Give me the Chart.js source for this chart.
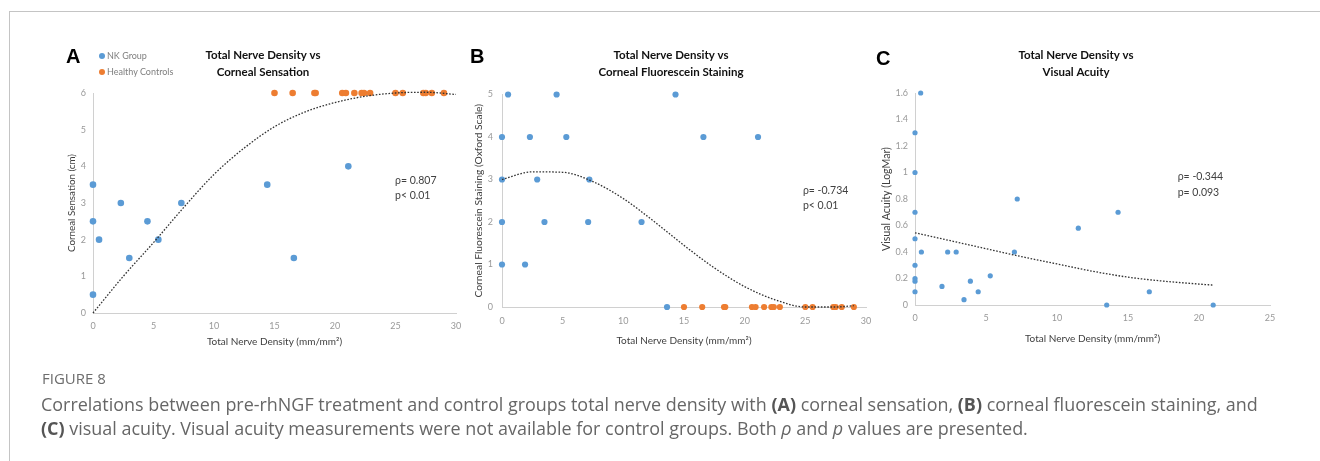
<!DOCTYPE html>
<html>
<head>
<meta charset="utf-8">
<script src="https://cdn.jsdelivr.net/npm/chart.js@4"></script>
<style>
html, body { margin: 0; padding: 0; background: #fff; }
body { width: 1320px; height: 461px; position: relative; overflow: hidden; font-family: 'Open Sans', sans-serif; }
.frame { position: absolute; left: 9px; top: 11px; right: -5px; bottom: -5px; border-top: 1px solid #c4c4c4; border-left: 1px solid #c4c4c4; }
canvas { position: absolute; top: 0; }
.letter { position: absolute; font: bold 20px 'Liberation Sans', Arial, sans-serif; color: #000; line-height: 20px; }
.legend { position: absolute; font: 9px Lato, sans-serif; color: #7f7f7f; line-height: 10px; white-space: nowrap; }
.legend i { display: inline-block; width: 6px; height: 6px; border-radius: 50%; margin-right: 2px; vertical-align: 0px; }
.figno { position: absolute; left: 42px; top: 367px; font-size: 15px; line-height: 22px; color: #6d6d6d; }
.cap { position: absolute; left: 41px; top: 392px; font-size: 17.95px; line-height: 24px; color: #666; white-space: nowrap; }
.cap b { font-weight: 700; color: #555; }
</style>
</head>
<body>
<div class="frame"></div>

<canvas id="chartA"></canvas>
<canvas id="chartB"></canvas>
<canvas id="chartC"></canvas>

<div class="letter" style="left:66px;top:46px">A</div>
<div class="letter" style="left:470px;top:46px">B</div>
<div class="letter" style="left:876px;top:48px">C</div>

<div class="legend" style="left:99px;top:51px"><i style="background:#5b9bd5"></i>NK Group</div>
<div class="legend" style="left:99px;top:67px"><i style="background:#ed7d31"></i>Healthy Controls</div>

<div class="figno">FIGURE 8</div>
<div class="cap">Correlations between pre-rhNGF treatment and control groups total nerve density with <b>(A)</b> corneal sensation, <b>(B)</b> corneal fluorescein staining, and<br><b>(C)</b> visual acuity. Visual acuity measurements were not available for control groups. Both <i>ρ</i> and <i>p</i> values are presented.</div>

<script>
// ---- data ----
const controlDensity = [15.0, 16.5, 18.3, 18.4, 20.6, 20.9, 21.6, 22.2, 22.4, 22.9, 25.0, 25.6, 27.3, 27.5, 28.0, 29.0]
const controlSensation = [6, 6, 6, 6, 6, 6, 6, 6, 6, 6, 6, 6, 6, 6, 6, 6]
const controlStaining = [0, 0, 0, 0, 0, 0, 0, 0, 0, 0, 0, 0, 0, 0, 0, 0]

// A: corneal sensation
const nkDensityA = [0, 0, 0.5, 0, 2.3, 3.0, 4.5, 5.4, 7.3, 14.4, 16.6, 21.1]
const nkSensation = [3.5, 2.5, 2.0, 0.5, 3.0, 1.5, 2.5, 2.0, 3.0, 3.5, 1.5, 4.0]
const trendXA = [0, 2.5, 5, 7.5, 10, 12.5, 15, 17.5, 20, 22.5, 25, 27.5, 30]
const trendYA = [0, 1.0, 1.92, 2.88, 3.78, 4.5, 5.08, 5.48, 5.74, 5.91, 6.0, 6.02, 5.96]

// B: corneal fluorescein staining
const nkDensityB = [0.5, 4.5, 14.3, 0, 2.3, 5.3, 16.6, 21.1, 0, 2.9, 7.2, 0, 3.5, 7.1, 11.5, 0, 1.9, 13.6]
const nkStaining = [5, 5, 5, 4, 4, 4, 4, 4, 3, 3, 3, 2, 2, 2, 2, 1, 1, 0]
const trendXB = [0, 2.5, 5, 7.5, 10, 12.5, 15, 17.5, 20, 22.5, 25, 27.5, 29]
const trendYB = [3.0, 3.18, 3.17, 2.95, 2.55, 2.02, 1.45, 0.92, 0.48, 0.17, 0.0, 0.0, 0.03]

// C: visual acuity
const nkDensityC = [0.4, 0, 0, 0, 0, 0.45, 0, 0, 0, 0, 1.9, 2.3, 2.9, 3.45, 3.9, 4.45, 5.3, 7.0, 7.2, 11.5, 13.5, 14.3, 16.5, 21.0]
const nkAcuity = [1.6, 1.3, 1.0, 0.7, 0.5, 0.4, 0.3, 0.2, 0.18, 0.1, 0.14, 0.4, 0.4, 0.04, 0.18, 0.1, 0.22, 0.4, 0.8, 0.58, 0, 0.7, 0.1, 0]
const trendXC = [0, 2.5, 5, 7.5, 10, 12.5, 15, 17.5, 20, 21]
const trendYC = [0.545, 0.485, 0.425, 0.365, 0.31, 0.255, 0.21, 0.18, 0.158, 0.15]

// axis ticks
const densityTicks30 = [0, 5, 10, 15, 20, 25, 30]
const densityTicks25 = [0, 5, 10, 15, 20, 25]
const sensationTicks = [0, 1, 2, 3, 4, 5, 6]
const stainingTicks = [0, 1, 2, 3, 4, 5]
const acuityTicks = [0, 0.2, 0.4, 0.6, 0.8, 1, 1.2, 1.4, 1.6]

const blue = '#5b9bd5'
const orange = '#ed7d31'
const axisColor = '#d0d0d0'
const tickColor = '#999'
const labelColor = '#404040'

function pts(xs, ys) {
    return xs.map((x, i) => ({x: x, y: ys[i]}))
}

// draws the rho / p text at data coordinates
const notesPlugin = {
    id: 'notes',
    afterDatasetsDraw(chart, args, opts) {
        const ctx = chart.ctx
        ctx.save()
        ctx.font = '10.5px Lato'
        ctx.fillStyle = labelColor
        ctx.textBaseline = 'middle'
        ctx.textAlign = 'left'
        opts.lines.forEach(function(l) {
            ctx.fillText(l.text, chart.scales.x.getPixelForValue(l.x), chart.scales.y.getPixelForValue(l.y))
        })
        ctx.restore()
    }
}

function scatterSet(data, color, r) {
    return {type: 'scatter', data: data, backgroundColor: color, borderWidth: 0, pointRadius: r, clip: false}
}

function trendSet(data) {
    return {type: 'line', data: data, showLine: true, borderColor: '#333', borderWidth: 1.3, borderDash: [1.6, 1.6],
        pointRadius: 0, fill: false, cubicInterpolationMode: 'monotone', clip: false}
}

function drawPanel(id, geo, cfg) {
    const canvas = document.getElementById(id)
    // y-axis box starts just left of its title; an empty right box keeps the chart title centred where Excel put it
    const left = geo.yTitleX - 7
    const spare = 2 * geo.titleX - left - geo.plotR
    const w = geo.plotR + spare - left + 10
    canvas.width = w
    canvas.height = 461
    canvas.style.left = left + 'px'
    const xAxisH = 40
    const padTop = geo.titleY - 8.75

    new Chart(canvas, {
        type: 'scatter',
        data: {datasets: cfg.datasets},
        plugins: [notesPlugin],
        options: {
            responsive: false,
            animation: false,
            layout: {padding: {left: 0, right: 10, top: padTop, bottom: 461 - geo.plotB - xAxisH}},
            scales: {
                x: {
                    type: 'linear', min: 0, max: cfg.xMax,
                    afterBuildTicks: s => { s.ticks = cfg.xTicks.map(v => ({value: v})) },
                    ticks: {color: tickColor, font: {family: 'Lato', size: 9}, padding: geo.xTickPad, maxRotation: 0, autoSkip: false},
                    grid: {display: false, drawTicks: false},
                    border: {display: true, color: axisColor, width: 1},
                    title: {display: true, text: 'Total Nerve Density (mm/mm²)', color: labelColor,
                        font: {family: 'Lato', size: 10, lineHeight: 1},
                        padding: {top: 0, bottom: geo.plotB + xAxisH - geo.xTitleY - 5}},
                    afterFit: s => { s.height = xAxisH; s.paddingLeft = 0; s.paddingRight = 0 }
                },
                y: {
                    type: 'linear', min: 0, max: cfg.yMax,
                    afterBuildTicks: s => { s.ticks = cfg.yTicks.map(v => ({value: v})) },
                    ticks: {color: tickColor, font: {family: 'Lato', size: 9}, padding: geo.yTickPad,
                        callback: v => String(+v.toFixed(1))},
                    grid: {display: false, drawTicks: false},
                    border: {display: true, color: axisColor, width: 1},
                    title: {display: true, text: cfg.yLabel, color: labelColor,
                        font: {family: 'Lato', size: geo.yTitleSize, lineHeight: 1},
                        padding: {top: 7 - geo.yTitleSize / 2, bottom: 0}},
                    afterFit: s => { s.width = geo.plotL - left; s.paddingTop = 0; s.paddingBottom = 0 }
                },
                spare: {
                    type: 'linear', position: 'right', display: true,
                    ticks: {display: false},
                    grid: {display: false, drawTicks: false},
                    border: {display: false},
                    afterFit: s => { s.width = spare; s.paddingTop = 0; s.paddingBottom = 0 }
                }
            },
            plugins: {
                legend: {display: false},
                tooltip: {enabled: false},
                title: {
                    display: true, text: cfg.title, color: '#111',
                    font: {family: 'Lato', size: 11.5, weight: 'bold', lineHeight: 17.5 / 11.5},
                    padding: {top: 0, bottom: geo.plotT - padTop - 35}
                },
                notes: {lines: cfg.notes}
            }
        }
    })
}

drawPanel('chartA',
    {titleX: 263, plotL: 93, plotR: 456, plotT: 93, plotB: 313, titleY: 55, xTitleY: 342, yTitleX: 72, yTitleSize: 9.8, xTickPad: 8, yTickPad: 7},
    {
        title: ['Total Nerve Density vs', 'Corneal Sensation'],
        yLabel: 'Corneal Sensation (cm)',
        xMax: 30, yMax: 6, xTicks: densityTicks30, yTicks: sensationTicks,
        datasets: [
            trendSet(pts(trendXA, trendYA)),
            scatterSet(pts(nkDensityA, nkSensation), blue, 3.3),
            scatterSet(pts(controlDensity, controlSensation), orange, 3.3)
        ],
        notes: [{text: 'ρ= 0.807', x: 24.96, y: 3.6}, {text: 'p< 0.01', x: 24.96, y: 3.19}]
    })

drawPanel('chartB',
    {titleX: 671, plotL: 502, plotR: 866, plotT: 94.5, plotB: 307, titleY: 55, xTitleY: 341, yTitleX: 479, yTitleSize: 10.3, xTickPad: 9, yTickPad: 9},
    {
        title: ['Total Nerve Density vs', 'Corneal Fluorescein Staining'],
        yLabel: 'Corneal Fluorescein Staining (Oxford Scale)',
        xMax: 30, yMax: 5, xTicks: densityTicks30, yTicks: stainingTicks,
        datasets: [
            trendSet(pts(trendXB, trendYB)),
            scatterSet(pts(nkDensityB, nkStaining), blue, 3.1),
            scatterSet(pts(controlDensity, controlStaining), orange, 3.1)
        ],
        notes: [{text: 'ρ= -0.734', x: 24.8, y: 2.73}, {text: 'p< 0.01', x: 24.8, y: 2.38}]
    })

drawPanel('chartC',
    {titleX: 1076, plotL: 915, plotR: 1270, plotT: 93, plotB: 305, titleY: 55, xTitleY: 339, yTitleX: 887, yTitleSize: 10.6, xTickPad: 8, yTickPad: 7},
    {
        title: ['Total Nerve Density vs', 'Visual Acuity'],
        yLabel: 'Visual Acuity (LogMar)',
        xMax: 25, yMax: 1.6, xTicks: densityTicks25, yTicks: acuityTicks,
        datasets: [
            trendSet(pts(trendXC, trendYC)),
            scatterSet(pts(nkDensityC, nkAcuity), blue, 2.6)
        ],
        notes: [{text: 'ρ= -0.344', x: 18.5, y: 0.966}, {text: 'p= 0.093', x: 18.5, y: 0.845}]
    })
</script>
</body>
</html>
